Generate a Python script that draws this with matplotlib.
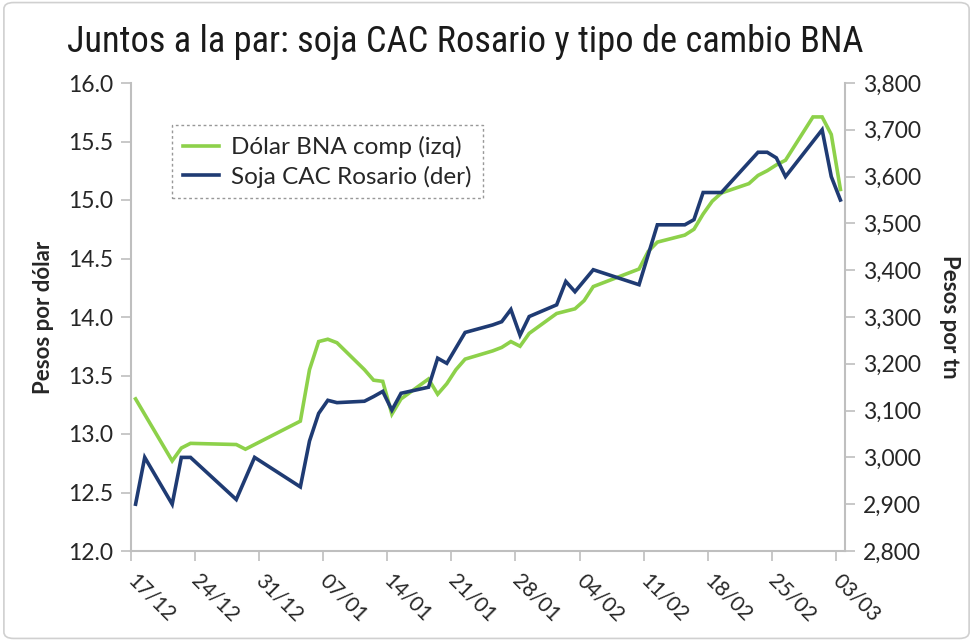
#!/bin/env python

import numpy as np
import pandas as pd
import matplotlib
matplotlib.use("Agg")
from matplotlib import pyplot as plt
from matplotlib.ticker import FuncFormatter, FixedLocator
from matplotlib.patches import FancyBboxPatch

GREEN = "#8DD14A"
NAVY = "#1F3B73"
GRAY = "#BFBFBF"
TXT = "#262626"

# dolar BNA comprador (eje izq)
dolar_fechas = ["2015-12-17", "2015-12-21", "2015-12-22", "2015-12-23", "2015-12-28", "2015-12-29",
                "2016-01-04", "2016-01-05", "2016-01-06", "2016-01-07", "2016-01-08", "2016-01-11",
                "2016-01-12", "2016-01-13", "2016-01-14", "2016-01-15", "2016-01-18", "2016-01-19",
                "2016-01-20", "2016-01-21", "2016-01-22", "2016-01-25", "2016-01-26", "2016-01-27",
                "2016-01-28", "2016-01-29", "2016-02-01", "2016-02-02", "2016-02-03", "2016-02-04",
                "2016-02-05", "2016-02-10", "2016-02-11", "2016-02-12", "2016-02-15", "2016-02-16",
                "2016-02-17", "2016-02-18", "2016-02-19", "2016-02-22", "2016-02-23", "2016-02-24",
                "2016-02-25", "2016-02-26", "2016-02-29", "2016-03-01", "2016-03-02", "2016-03-03"]
dolar = [13.30, 12.77, 12.88, 12.92, 12.91, 12.87,
         13.11, 13.55, 13.79, 13.81, 13.78, 13.55,
         13.46, 13.45, 13.17, 13.30, 13.47, 13.34,
         13.43, 13.55, 13.64, 13.71, 13.74, 13.79,
         13.75, 13.86, 14.03, 14.05, 14.07, 14.14,
         14.26, 14.41, 14.56, 14.64, 14.70, 14.75,
         14.88, 14.99, 15.06, 15.14, 15.21, 15.25,
         15.30, 15.34, 15.71, 15.71, 15.56, 15.09]

# soja CAC Rosario (eje der)
soja_fechas = ["2015-12-17", "2015-12-18", "2015-12-21", "2015-12-22", "2015-12-23", "2015-12-28",
               "2015-12-30", "2016-01-04", "2016-01-05", "2016-01-06", "2016-01-07", "2016-01-08",
               "2016-01-11", "2016-01-12", "2016-01-13", "2016-01-14", "2016-01-15", "2016-01-18",
               "2016-01-19", "2016-01-20", "2016-01-22", "2016-01-25", "2016-01-26", "2016-01-27",
               "2016-01-28", "2016-01-29", "2016-02-01", "2016-02-02", "2016-02-03", "2016-02-05",
               "2016-02-10", "2016-02-12", "2016-02-15", "2016-02-16", "2016-02-17", "2016-02-18",
               "2016-02-19", "2016-02-23", "2016-02-24", "2016-02-25", "2016-02-26", "2016-03-01",
               "2016-03-02", "2016-03-03"]
soja = [2900, 3000, 2900, 3000, 3000, 2910,
        3000, 2937, 3035, 3094, 3122, 3117,
        3120, 3130, 3141, 3101, 3137, 3150,
        3212, 3201, 3267, 3283, 3290, 3316,
        3261, 3301, 3326, 3376, 3354, 3401,
        3369, 3497, 3497, 3508, 3566, 3566,
        3566, 3652, 3652, 3640, 3600, 3700,
        3600, 3550]

tick_fechas = ["2015-12-17", "2015-12-24", "2015-12-31", "2016-01-07", "2016-01-14", "2016-01-21",
               "2016-01-28", "2016-02-04", "2016-02-11", "2016-02-18", "2016-02-25", "2016-03-03"]

titulo = "Juntos a la par: soja CAC Rosario y tipo de cambio BNA"
TITLE_FONTS = ["Roboto Condensed", "Asap Condensed", "Archivo Narrow", "DejaVu Sans"]


def main():
    fig = plt.figure(figsize=(9.73, 6.41), dpi=100)
    ax = fig.add_axes([131/973, 1-551/641, (845-131)/973, (551-83)/641])
    ax2 = ax.twinx()

    d_x = pd.to_datetime(dolar_fechas)
    s_x = pd.to_datetime(soja_fechas)
    t_x = pd.to_datetime(tick_fechas)
    half = pd.Timedelta(hours=12)

    l1, = ax.plot(d_x, dolar, color=GREEN, lw=2.6, label="Dólar BNA comp (izq)", solid_joinstyle="miter")
    l2, = ax2.plot(s_x, soja, color=NAVY, lw=2.6, label="Soja CAC Rosario (der)", solid_joinstyle="miter")

    ax.set_xlim(t_x[0] - half, t_x[-1] + half)
    ax.set_ylim(12.0, 16.0)
    ax2.set_ylim(2800, 3800)
    ax.set_yticks(np.arange(12.0, 16.01, 0.5))
    ax2.set_yticks(np.arange(2800, 3801, 100))
    ax.yaxis.set_major_formatter(FuncFormatter(lambda v, p: f"{v:.1f}"))
    ax2.yaxis.set_major_formatter(FuncFormatter(lambda v, p: f"{v:,.0f}"))

    ax.xaxis.set_major_locator(FixedLocator([matplotlib.dates.date2num(t - half) for t in t_x]))
    ax.set_xticklabels([t.strftime("%d/%m") for t in t_x], rotation=-45, ha="left", va="center",
                       rotation_mode="anchor", fontsize=15, family="Lato", color=TXT)

    for a in (ax, ax2):
        for s in a.spines.values():
            s.set_visible(False)
    ax.spines["left"].set_visible(True)
    ax.spines["bottom"].set_visible(True)
    ax2.spines["right"].set_visible(True)
    for s in (ax.spines["left"], ax.spines["bottom"], ax2.spines["right"]):
        s.set_color(GRAY)
        s.set_linewidth(1.5)

    ax.tick_params(axis="y", length=7, width=1.2, color=GRAY, labelsize=16.5, labelcolor=TXT, pad=6)
    ax.tick_params(axis="x", length=7, width=1.2, color=GRAY, pad=12)
    ax2.tick_params(axis="y", length=7, width=1.2, color=GRAY, labelsize=16.5, labelcolor=TXT, pad=6)
    for lab in ax.get_yticklabels() + ax2.get_yticklabels():
        lab.set_family("Lato")

    ax.set_ylabel("Pesos por dólar", fontsize=16, fontweight="bold", family="Lato", color=TXT, labelpad=10)
    ax2.set_ylabel("Pesos por tn", fontsize=16, fontweight="bold", family="Lato", color=TXT,
                   rotation=-90, labelpad=28)

    leg = ax.legend(handles=[l1, l2], loc="upper left", bbox_to_anchor=(0.057, 0.91),
                    borderaxespad=0, fancybox=False, prop={"family": "Lato", "size": 17.5},
                    handlelength=1.5, handletextpad=0.5, borderpad=0.45, labelspacing=0.3)
    leg.get_frame().set_linestyle((0, (2, 2)))
    leg.get_frame().set_edgecolor("#7F7F7F")
    leg.get_frame().set_linewidth(1.0)
    for t in leg.get_texts():
        t.set_color(TXT)

    # titulo: fuente angosta, se ajusta el tamaño al ancho del original (~796 px)
    tt = fig.text(0.478, 0.935, titulo, ha="center", va="center", fontsize=27,
                  family=TITLE_FONTS, color="#1A1A1A")
    fig.canvas.draw()
    w = tt.get_window_extent().width
    tt.set_fontsize(min(34, 27 * 796 / w))

    border = FancyBboxPatch((0.004, 0.004), 0.992, 0.992, boxstyle="round,pad=0,rounding_size=0.01",
                            transform=fig.transFigure, fill=False, edgecolor="#D0D0D0", lw=1.2)
    fig.patches.append(border)

    fig.savefig("out.png", dpi=100)


if __name__ == "__main__":
    main()
